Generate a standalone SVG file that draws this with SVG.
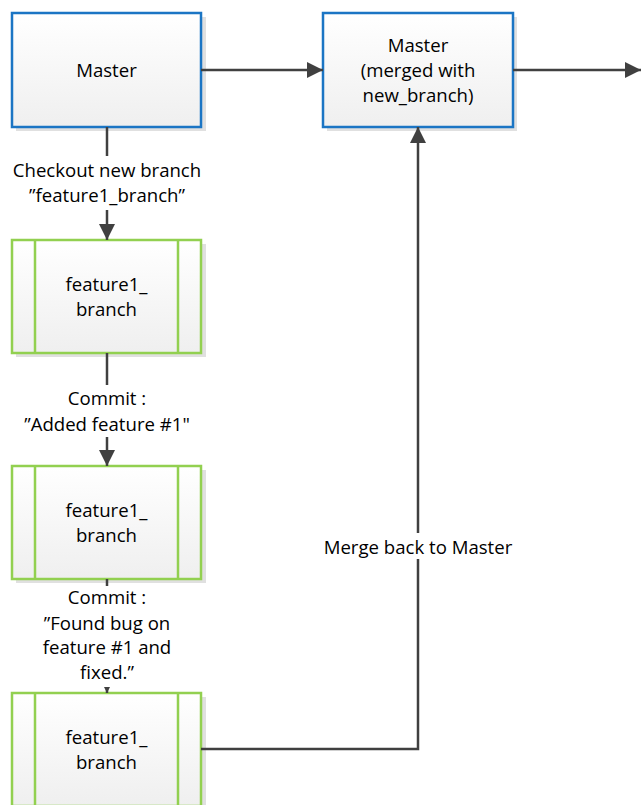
<svg xmlns="http://www.w3.org/2000/svg" width="641" height="805" viewBox="0 0 641 805">
<defs>
<linearGradient id="fill" x1="0" y1="0" x2="0" y2="1">
<stop offset="0" stop-color="#FFFFFF"/>
<stop offset="1" stop-color="#EFEFEF"/>
</linearGradient>
<marker id="arr" viewBox="0 0 16 16" refX="16" refY="8" markerWidth="16" markerHeight="16" markerUnits="userSpaceOnUse" orient="auto">
<path d="M0,0 L16,8 L0,16 Z" fill="#404040"/>
</marker>
<marker id="arrs" viewBox="0 0 6 6" refX="6" refY="3" markerWidth="6" markerHeight="6" markerUnits="userSpaceOnUse" orient="auto">
<path d="M0,0 L6,3 L0,6 Z" fill="#404040"/>
</marker>
</defs>
<style>
.shadow{fill:#E0E0E0;}
.blue{fill:url(#fill);stroke:#1B75C4;stroke-width:2.5;}
.green{fill:url(#fill);stroke:#92D050;stroke-width:2.5;}
.gl{stroke:#92D050;stroke-width:2.5;fill:none;}
.t{font-family:"Open Sans","Liberation Sans",Arial,sans-serif;font-size:18.6px;fill:#000;text-anchor:middle;}
.c{stroke:#404040;stroke-width:2.5;fill:none;}
</style>
<rect width="641" height="805" fill="#FFFFFF"/>
<g id="master1">
<rect class="shadow" x="16" y="17" width="190" height="114"/>
<rect class="blue" x="12" y="13" width="189" height="114"/>
<text class="t" x="106.5" y="77">Master</text>
</g>
<g id="master2">
<rect class="shadow" x="327" y="17" width="190" height="114"/>
<rect class="blue" x="323" y="13" width="190" height="114"/>
<text class="t" x="418" y="52">Master</text>
<text class="t" x="418" y="77">(merged with</text>
<text class="t" x="418" y="102">new_branch)</text>
</g>
<g id="branch1">
<rect class="shadow" x="16" y="244" width="190" height="113"/>
<rect class="green" x="12" y="240" width="189" height="113"/>
<path class="gl" d="M35,240 V353 M178,240 V353"/>
<text class="t" x="106.5" y="291">feature1_</text>
<text class="t" x="106.5" y="316">branch</text>
</g>
<g id="branch2">
<rect class="shadow" x="16" y="470" width="190" height="113"/>
<rect class="green" x="12" y="466" width="189" height="113"/>
<path class="gl" d="M35,466 V579 M178,466 V579"/>
<text class="t" x="106.5" y="517">feature1_</text>
<text class="t" x="106.5" y="542">branch</text>
</g>
<g id="branch3">
<rect class="shadow" x="16" y="697" width="190" height="113"/>
<rect class="green" x="12" y="693" width="189" height="113"/>
<path class="gl" d="M35,693 V806 M178,693 V806"/>
<text class="t" x="106.5" y="744">feature1_</text>
<text class="t" x="106.5" y="769">branch</text>
</g>
<g id="connectors">
<path class="c" d="M201,70 H323" marker-end="url(#arr)"/>
<path class="c" d="M513,70 H641" marker-end="url(#arr)"/>
<path class="c" d="M107,127 V156"/>
<path class="c" d="M107,210 V240" marker-end="url(#arr)"/>
<text class="t" x="107" y="177">Checkout new branch</text>
<text class="t" x="107" y="202">”feature1_branch”</text>
<path class="c" d="M107,353 V385"/>
<path class="c" d="M107,437 V466" marker-end="url(#arr)"/>
<text class="t" x="107" y="405">Commit :</text>
<text class="t" x="107" y="431">”Added feature #1"</text>
<path class="c" d="M107,579 V586"/>
<path class="c" d="M107,687 V693" stroke-width="1" marker-end="url(#arrs)"/>
<text class="t" x="107" y="604">Commit :</text>
<text class="t" x="107" y="630">”Found bug on</text>
<text class="t" x="107" y="654">feature #1 and</text>
<text class="t" x="107" y="679">fixed.”</text>
<path class="c" d="M201,749 H418 V127" marker-end="url(#arr)"/>
<rect x="318" y="533" width="200" height="26" fill="#FFFFFF"/>
<text class="t" x="418" y="554">Merge back to Master</text>
</g>
</svg>
